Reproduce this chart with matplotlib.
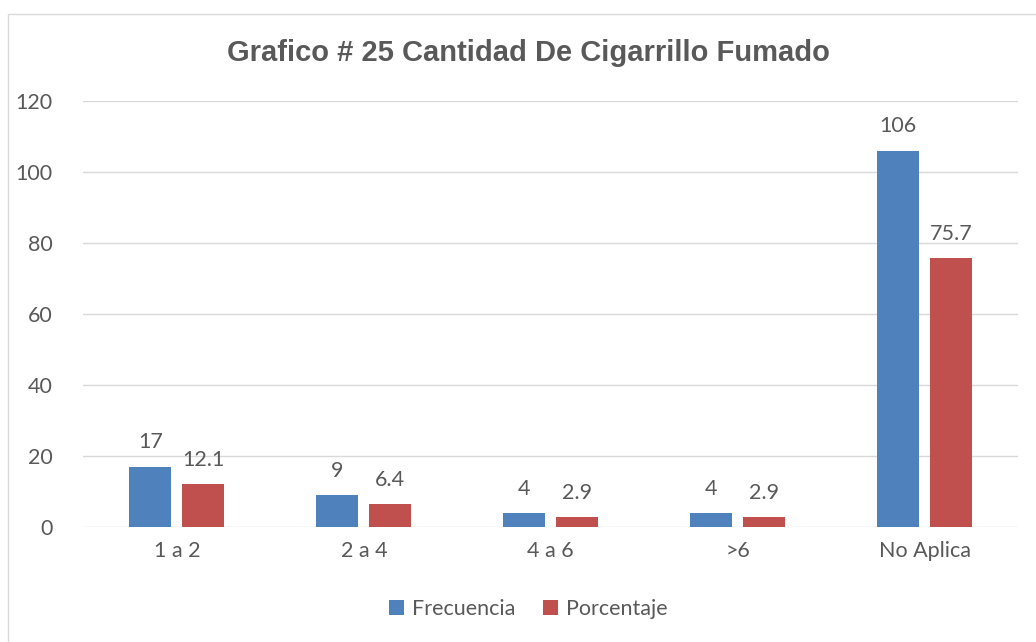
import numpy as np
import matplotlib.pyplot as plt
from matplotlib.patches import Rectangle

categorias = ['1 a 2', '2 a 4', '4 a 6', '>6', 'No Aplica']
frecuencia = [17, 9, 4, 4, 106]
porcentaje = [12.1, 6.4, 2.9, 2.9, 75.7]

azul = '#4F81BD'
rojo = '#C0504D'
gris = '#595959'

plt.rcParams['font.family'] = ['Lato', 'DejaVu Sans']

fig = plt.figure(figsize=(10.36, 6.42), dpi=100)
fig.patches.append(Rectangle((8/1036, -0.05), 1.1, 1 - 14/642 + 0.05, transform=fig.transFigure,
                             fill=False, edgecolor='#D9D9D9', linewidth=1))
ax = fig.add_axes([0.0805, 0.179, 0.9023, 0.664])

x = np.arange(len(categorias))
w = 0.225
off = 0.142
b1 = ax.bar(x - off, frecuencia, w, color=azul, label='Frecuencia')
b2 = ax.bar(x + off, porcentaje, w, color=rojo, label='Porcentaje')

for rect, v in zip(b1, frecuencia):
    ax.text(rect.get_x() + rect.get_width() / 2, v + 4, str(v), ha='center', va='bottom',
            fontsize=15.5, color=gris)
for rect, v in zip(b2, porcentaje):
    ax.text(rect.get_x() + rect.get_width() / 2, v + 4, str(v), ha='center', va='bottom',
            fontsize=15.5, color=gris)

ax.set_xlim(-0.5, len(categorias) - 0.5)
ax.set_ylim(0, 120)
ax.set_yticks(range(0, 121, 20))
ax.set_xticks(x)
ax.set_xticklabels(categorias)
ax.tick_params(axis='both', length=0, labelsize=15.5, colors=gris)
ax.tick_params(axis='x', pad=10)
ax.tick_params(axis='y', pad=22)
ax.grid(axis='y', color='#D9D9D9', linewidth=1)
ax.set_axisbelow(True)
for s in ax.spines.values():
    s.set_visible(False)

fig.text(0.51, 1 - 53/642, 'Grafico # 25 Cantidad De Cigarrillo Fumado', ha='center', va='center',
         fontsize=21, fontweight='bold', color=gris, family='Liberation Sans')

fig.legend(handles=[b1, b2], loc='center', bbox_to_anchor=(0.51, 1 - 609/642), ncol=2,
           frameon=False, fontsize=15.5, labelcolor=gris, handlelength=0.7, handleheight=0.7,
           columnspacing=1.3, handletextpad=0.35)

fig.savefig('out.png', dpi=100)
